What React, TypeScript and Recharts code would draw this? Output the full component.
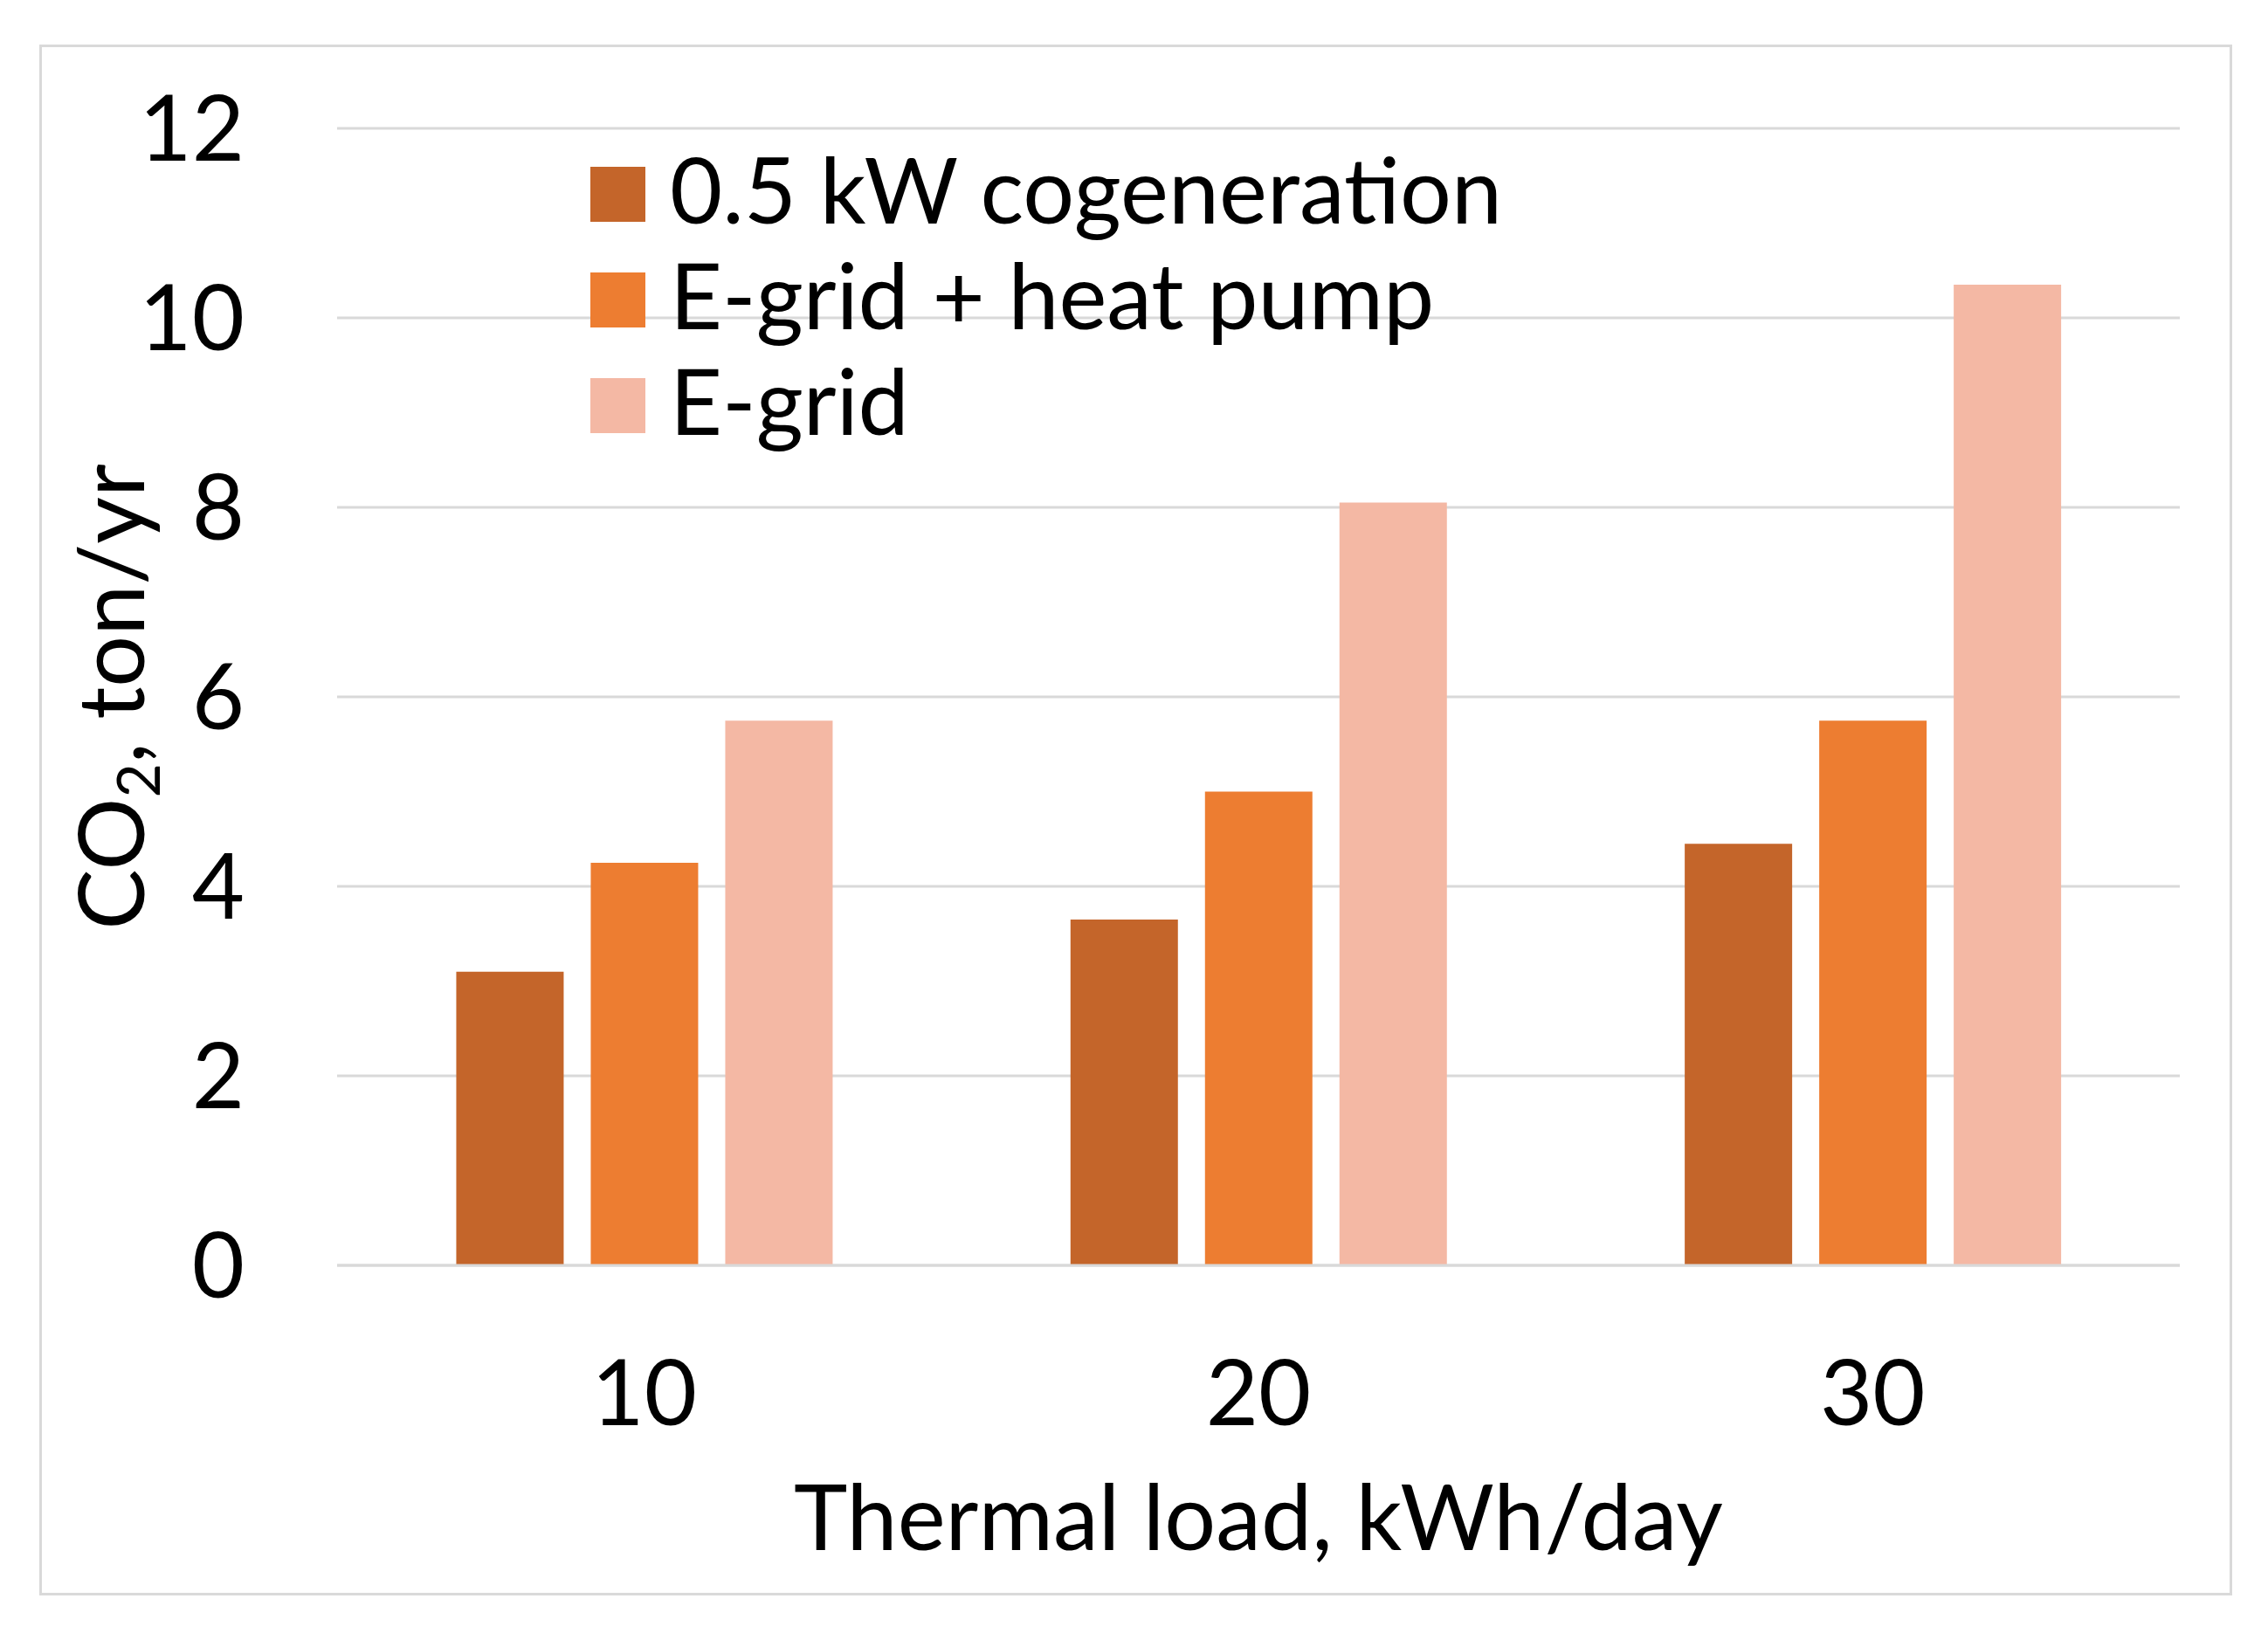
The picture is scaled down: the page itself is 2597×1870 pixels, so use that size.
import React from "react";
import { BarChart, Bar, XAxis, YAxis, CartesianGrid, Legend, Label } from "recharts";

const categories = ["10", "20", "30"];
const cogeneration = [3.1, 3.65, 4.45];
const gridHeatPump = [4.25, 5.0, 5.75];
const gridOnly = [5.75, 8.05, 10.35];
const yTicks = [0, 2, 4, 6, 8, 10, 12];

const seriesNames = ["0.5 kW cogeneration", "E-grid + heat pump", "E-grid"];
const seriesColors = ["#C4652A", "#ED7D31", "#F4B8A4"];

const data = categories.map((c, i) => ({
    load: c,
    cog: cogeneration[i],
    hp: gridHeatPump[i],
    grid: gridOnly[i],
}));

const FONT = "Lato, 'Noto Sans', sans-serif";
const FS = 104;
const W = 2597;
const H = 1870;

// legend drawn in series order (recharts would sort it by name)
function LegendBox() {
    return (
        <div style={{ fontFamily: FONT, fontSize: FS, color: "#000" }}>
            {seriesNames.map((name, i) => (
                <div key={name} style={{ display: "flex", alignItems: "center", height: 121 }}>
                    <span style={{ width: 63, height: 63, background: seriesColors[i], display: "inline-block", marginRight: 28 }} />
                    <span style={{ lineHeight: 1, whiteSpace: "nowrap", position: "relative", top: -7 }}>{name}</span>
                </div>
            ))}
        </div>
    );
}

const renderXTitle = (props: any) => {
    const { x, width, y } = props.viewBox;
    return (
        <text x={x + width / 2} y={y + 326} textAnchor="middle" fontFamily={FONT} fontSize={FS} fill="#000">
            Thermal load, kWh/day
        </text>
    );
};

const renderYTitle = (props: any) => {
    const { y, height } = props.viewBox;
    const cx = 129;
    const cy = y + height / 2;
    return (
        <text
            x={cx}
            y={cy}
            transform={`rotate(-90, ${cx}, ${cy})`}
            textAnchor="middle"
            dy={36}
            fontFamily={FONT}
            fontSize={FS}
            fill="#000"
        >
            CO
            <tspan dy={18} fontSize={68}>2</tspan>
            <tspan dy={-18}>, ton/yr</tspan>
        </text>
    );
};

export default function App() {
    return (
        <div style={{ position: "absolute", left: 0, top: 0, width: W, height: H, background: "#fff" }}>
            {/* outer frame */}
            <div
                style={{
                    position: "absolute",
                    left: 45,
                    top: 51,
                    width: 2511,
                    height: 1776,
                    border: "3px solid #D9D9D9",
                    boxSizing: "border-box",
                }}
            />
            <div style={{ position: "absolute", left: 0, top: 0 }}>
                <BarChart
                    width={W}
                    height={H}
                    data={data}
                    margin={{ top: 147, right: 101, bottom: 121, left: 186 }}
                    barCategoryGap="19.4%"
                    barGap={31}
                >
                    <CartesianGrid vertical={false} stroke="#D9D9D9" strokeWidth={3} />
                    <XAxis
                        dataKey="load"
                        height={300}
                        axisLine={{ stroke: "#D9D9D9", strokeWidth: 3 }}
                        tickLine={false}
                        tickSize={0}
                        tickMargin={109}
                        tick={{ fontFamily: FONT, fontSize: FS, fill: "#000" }}
                    >
                        <Label content={renderXTitle} />
                    </XAxis>
                    <YAxis
                        width={200}
                        domain={[0, 12]}
                        ticks={yTicks}
                        axisLine={false}
                        tickLine={false}
                        tickSize={0}
                        tickMargin={106}
                        tick={{ fontFamily: FONT, fontSize: FS, fill: "#000" }}
                    >
                        <Label content={renderYTitle} />
                    </YAxis>
                    <Legend
                        layout="vertical"
                        verticalAlign="middle"
                        align="center"
                        content={<LegendBox />}
                        wrapperStyle={{ position: "absolute", top: 162, left: 676, width: "auto" }}
                    />
                    <Bar dataKey="cog" name={seriesNames[0]} fill={seriesColors[0]} isAnimationActive={false} />
                    <Bar dataKey="hp" name={seriesNames[1]} fill={seriesColors[1]} isAnimationActive={false} />
                    <Bar dataKey="grid" name={seriesNames[2]} fill={seriesColors[2]} isAnimationActive={false} />
                </BarChart>
            </div>
        </div>
    );
}
